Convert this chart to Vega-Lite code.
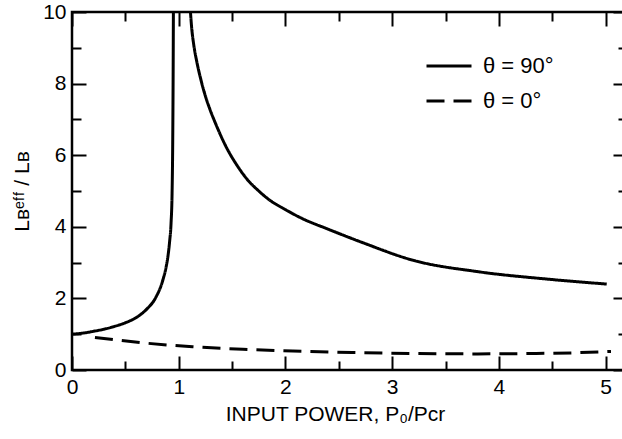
{
  "$schema": "https://vega.github.io/schema/vega-lite/v6.json",
  "width": 555,
  "height": 358,
  "autosize": {"type": "none"},
  "padding": {"left": 72, "top": 12, "right": 0, "bottom": 69},
  "background": "white",
  "config": {
    "view": {"stroke": "black", "strokeWidth": 2.5},
    "font": "Liberation Sans",
    "axis": {
      "domain": false,
      "grid": false,
      "ticks": true,
      "tickColor": "black",
      "tickWidth": 2,
      "labelColor": "black",
      "labelFontSize": 21,
      "labelFont": "Liberation Sans",
      "labelPadding": 6,
      "labelFlush": false,
      "labelOverlap": false,
      "titleColor": "black",
      "titleFontSize": 21,
      "titleFontWeight": "normal",
      "titleFont": "Liberation Sans"
    }
  },
  "data": {
    "values": [
      {"series": "θ = 90°", "seg": "a", "x": 0.0, "y": 1.0},
      {"series": "θ = 90°", "seg": "a", "x": 0.1, "y": 1.03},
      {"series": "θ = 90°", "seg": "a", "x": 0.2, "y": 1.08},
      {"series": "θ = 90°", "seg": "a", "x": 0.3, "y": 1.14},
      {"series": "θ = 90°", "seg": "a", "x": 0.4, "y": 1.22},
      {"series": "θ = 90°", "seg": "a", "x": 0.5, "y": 1.32},
      {"series": "θ = 90°", "seg": "a", "x": 0.61, "y": 1.48},
      {"series": "θ = 90°", "seg": "a", "x": 0.7, "y": 1.7},
      {"series": "θ = 90°", "seg": "a", "x": 0.78, "y": 2.0},
      {"series": "θ = 90°", "seg": "a", "x": 0.85, "y": 2.5},
      {"series": "θ = 90°", "seg": "a", "x": 0.88, "y": 2.85},
      {"series": "θ = 90°", "seg": "a", "x": 0.9, "y": 3.2},
      {"series": "θ = 90°", "seg": "a", "x": 0.915, "y": 3.6},
      {"series": "θ = 90°", "seg": "a", "x": 0.928, "y": 4.1},
      {"series": "θ = 90°", "seg": "a", "x": 0.938, "y": 5.0},
      {"series": "θ = 90°", "seg": "a", "x": 0.944, "y": 6.5},
      {"series": "θ = 90°", "seg": "a", "x": 0.948, "y": 8.5},
      {"series": "θ = 90°", "seg": "a", "x": 0.95, "y": 10.0},
      {"series": "θ = 90°", "seg": "b", "x": 1.11, "y": 10.0},
      {"series": "θ = 90°", "seg": "b", "x": 1.12, "y": 9.6},
      {"series": "θ = 90°", "seg": "b", "x": 1.14, "y": 9.1},
      {"series": "θ = 90°", "seg": "b", "x": 1.17, "y": 8.6},
      {"series": "θ = 90°", "seg": "b", "x": 1.2, "y": 8.2},
      {"series": "θ = 90°", "seg": "b", "x": 1.25, "y": 7.65},
      {"series": "θ = 90°", "seg": "b", "x": 1.29, "y": 7.3},
      {"series": "θ = 90°", "seg": "b", "x": 1.35, "y": 6.85},
      {"series": "θ = 90°", "seg": "b", "x": 1.45, "y": 6.2},
      {"series": "θ = 90°", "seg": "b", "x": 1.55, "y": 5.7},
      {"series": "θ = 90°", "seg": "b", "x": 1.64, "y": 5.33},
      {"series": "θ = 90°", "seg": "b", "x": 1.75, "y": 5.0},
      {"series": "θ = 90°", "seg": "b", "x": 1.85, "y": 4.75},
      {"series": "θ = 90°", "seg": "b", "x": 2.0, "y": 4.48},
      {"series": "θ = 90°", "seg": "b", "x": 2.13, "y": 4.27},
      {"series": "θ = 90°", "seg": "b", "x": 2.42, "y": 3.91},
      {"series": "θ = 90°", "seg": "b", "x": 2.73, "y": 3.55},
      {"series": "θ = 90°", "seg": "b", "x": 3.19, "y": 3.07},
      {"series": "θ = 90°", "seg": "b", "x": 3.82, "y": 2.74},
      {"series": "θ = 90°", "seg": "b", "x": 4.45, "y": 2.54},
      {"series": "θ = 90°", "seg": "b", "x": 5.01, "y": 2.4},
      {"series": "θ = 0°", "seg": "c", "x": 0.215, "y": 0.91},
      {"series": "θ = 0°", "seg": "c", "x": 0.66, "y": 0.76},
      {"series": "θ = 0°", "seg": "c", "x": 1.13, "y": 0.65},
      {"series": "θ = 0°", "seg": "c", "x": 1.6, "y": 0.58},
      {"series": "θ = 0°", "seg": "c", "x": 2.07, "y": 0.53},
      {"series": "θ = 0°", "seg": "c", "x": 2.63, "y": 0.49},
      {"series": "θ = 0°", "seg": "c", "x": 3.2, "y": 0.46},
      {"series": "θ = 0°", "seg": "c", "x": 3.8, "y": 0.45},
      {"series": "θ = 0°", "seg": "c", "x": 4.3, "y": 0.46},
      {"series": "θ = 0°", "seg": "c", "x": 4.7, "y": 0.48},
      {"series": "θ = 0°", "seg": "c", "x": 5.05, "y": 0.52}
    ]
  },
  "layer": [
    {
      "mark": {"type": "line", "strokeWidth": 3, "color": "black", "clip": true, "interpolate": "monotone"},
      "encoding": {
        "x": {
          "field": "x", "type": "quantitative",
          "scale": {"domain": [0, 5.2], "nice": false, "zero": false},
          "axis": {
            "orient": "bottom",
            "values": [0, 1, 2, 3, 4, 5],
            "tickSize": -14,
            "labelPadding": 20,
            "format": "d",
            "title": "INPUT POWER, P₀/Pcr",
            "titleX": 263,
            "titleY": 50,
            "titleAlign": "center",
            "titleBaseline": "alphabetic"
          }
        },
        "y": {
          "field": "y", "type": "quantitative",
          "scale": {"domain": [0, 10], "nice": false},
          "axis": {
            "orient": "left",
            "values": [0, 2, 4, 6, 8, 10],
            "tickSize": -14,
            "labelPadding": 20,
            "format": "d",
            "title": "Lʙᵉᶠᶠ / Lʙ",
            "titleX": -50,
            "titleBaseline": "middle"
          }
        },
        "detail": {"field": "seg", "type": "nominal"},
        "strokeDash": {
          "field": "series", "type": "nominal",
          "scale": {"domain": ["θ = 90°", "θ = 0°"], "range": [[1, 0], [18, 9]]},
          "legend": {
            "orient": "none",
            "legendX": 353,
            "legendY": 30,
            "title": null,
            "symbolType": "stroke",
            "symbolSize": 2025,
            "symbolStrokeWidth": 3,
            "symbolStrokeColor": "black",
            "labelFontSize": 22,
            "labelFont": "Liberation Sans",
            "labelColor": "black",
            "labelOffset": 10,
            "rowPadding": 0
          }
        }
      }
    },
    {
      "mark": {"type": "line", "opacity": 0},
      "encoding": {
        "x": {
          "field": "x", "type": "quantitative",
          "scale": {"domain": [0, 5.2], "nice": false, "zero": false},
          "axis": {"orient": "top", "values": [0, 1, 2, 3, 4, 5], "tickSize": -14, "labels": false, "title": null}
        },
        "y": {
          "field": "y", "type": "quantitative",
          "scale": {"domain": [0, 10], "nice": false},
          "axis": {"orient": "right", "values": [0, 2, 4, 6, 8, 10], "tickSize": -14, "labels": false, "title": null}
        },
        "detail": {"field": "seg", "type": "nominal"}
      }
    },
    {
      "mark": {"type": "line", "opacity": 0},
      "encoding": {
        "x": {
          "field": "x", "type": "quantitative",
          "scale": {"domain": [0, 5.2], "nice": false, "zero": false},
          "axis": {"orient": "bottom", "values": [0.5, 1.5, 2.5, 3.5, 4.5], "tickSize": -9, "labels": false, "title": null}
        },
        "y": {
          "field": "y", "type": "quantitative",
          "scale": {"domain": [0, 10], "nice": false},
          "axis": {"orient": "left", "values": [1, 3, 5, 7, 9], "tickSize": -9, "labels": false, "title": null}
        },
        "detail": {"field": "seg", "type": "nominal"}
      }
    },
    {
      "mark": {"type": "line", "opacity": 0},
      "encoding": {
        "x": {
          "field": "x", "type": "quantitative",
          "scale": {"domain": [0, 5.2], "nice": false, "zero": false},
          "axis": {"orient": "top", "values": [0.5, 1.5, 2.5, 3.5, 4.5], "tickSize": -9, "labels": false, "title": null}
        },
        "y": {
          "field": "y", "type": "quantitative",
          "scale": {"domain": [0, 10], "nice": false},
          "axis": {"orient": "right", "values": [1, 3, 5, 7, 9], "tickSize": -9, "labels": false, "title": null}
        },
        "detail": {"field": "seg", "type": "nominal"}
      }
    }
  ],
  "resolve": {"axis": {"x": "independent", "y": "independent"}}
}
